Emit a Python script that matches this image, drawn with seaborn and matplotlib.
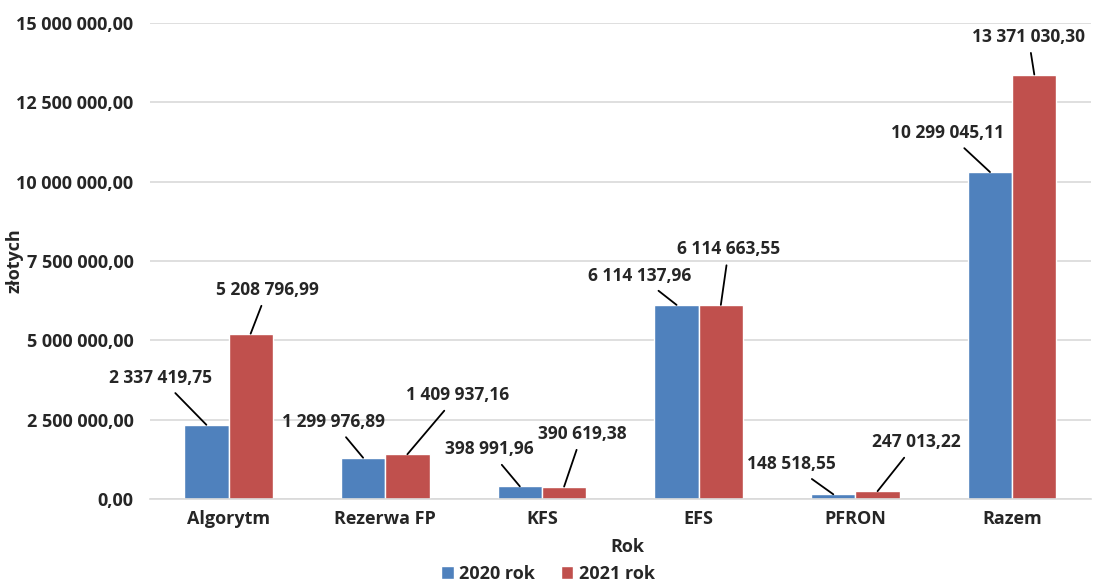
import numpy as np
import pandas as pd
import seaborn as sns
import matplotlib.pyplot as plt
from matplotlib.ticker import FuncFormatter

categories = ["Algorytm", "Rezerwa FP", "KFS", "EFS", "PFRON", "Razem"]
series = ["2020 rok", "2021 rok"]
vals_2020 = [2337419.75, 1299976.89, 398991.96, 6114137.96, 148518.55, 10299045.11]
vals_2021 = [5208796.99, 1409937.16, 390619.38, 6114663.55, 247013.22, 13371030.30]

# label offsets in pixels from the bar top (layout only)
offs_2020 = [(-46, 47), (-30, 36), (-31, 37), (-37, 29), (-42, 30), (-42, 39)]
offs_2021 = [(17, 44), (50, 59), (18, 53), (8, 56), (39, 49), (-6, 38)]


def pl_fmt(v, pos=None):
    return f"{v:,.2f}".replace(",", " ").replace(".", ",")


df = pd.DataFrame({
    "kat": categories * 2,
    "rok": [series[0]] * 6 + [series[1]] * 6,
    "val": vals_2020 + vals_2021,
})

sns.set_style("white")
plt.rcParams['font.family'] = ['Open Sans', 'DejaVu Sans']
plt.rcParams['font.weight'] = 'bold'
FS = 13
FS_LAB = 12.5

fig = plt.figure(figsize=(10.96, 5.85), dpi=100)
ax = fig.add_axes([0.137, 0.147, 0.858, 0.814])

sns.barplot(data=df, x="kat", y="val", hue="rok", order=categories,
            hue_order=series, palette=["#4F81BD", "#C0504D"],
            width=0.565, gap=0, saturation=1, ax=ax, legend=True)

ax.set_ylim(0, 15000000)
ax.set_yticks(np.arange(0, 15000001, 2500000))
ax.yaxis.set_major_formatter(FuncFormatter(pl_fmt))
ax.grid(axis="y", color="#D9D9D9", linewidth=1.2)
ax.set_axisbelow(True)
for s in ["left", "right", "top"]:
    ax.spines[s].set_visible(False)
ax.spines["bottom"].set_color("#D9D9D9")
ax.spines["bottom"].set_linewidth(1.2)
ax.tick_params(axis="both", length=0, labelsize=FS)
ax.tick_params(axis="y", pad=12)
ax.tick_params(axis="x", pad=8)
for t in ax.get_xticklabels() + ax.get_yticklabels():
    t.set_fontweight("bold")

ax.set_xlabel("Rok", fontsize=FS, fontweight="bold")
ax.xaxis.set_label_coords(0.508, -0.082)
ax.set_ylabel("złotych", fontsize=FS, fontweight="bold")
ax.yaxis.set_label_coords(-0.135, 0.5)

for cont, offs, vals in zip(ax.containers, [offs_2020, offs_2021], [vals_2020, vals_2021]):
    for bar, (dx, dy), v in zip(cont, offs, vals):
        x = bar.get_x() + bar.get_width() / 2
        ax.annotate(pl_fmt(v), xy=(x, v), xytext=(dx, dy), textcoords="offset pixels",
                    ha="center", va="center", fontsize=FS_LAB, fontweight="bold",
                    arrowprops=dict(arrowstyle="-", color="black", lw=1.3,
                                    shrinkA=3, shrinkB=0))

handles, labels = ax.get_legend_handles_labels()
ax.get_legend().remove()
fig.legend(handles, labels, loc="lower center", bbox_to_anchor=(0.5, -0.024), ncol=2,
           frameon=False, handlelength=0.7, handleheight=0.7,
           handletextpad=0.3, columnspacing=1.4, prop={"weight": "bold", "size": FS})

fig.savefig("out.png", dpi=100)
